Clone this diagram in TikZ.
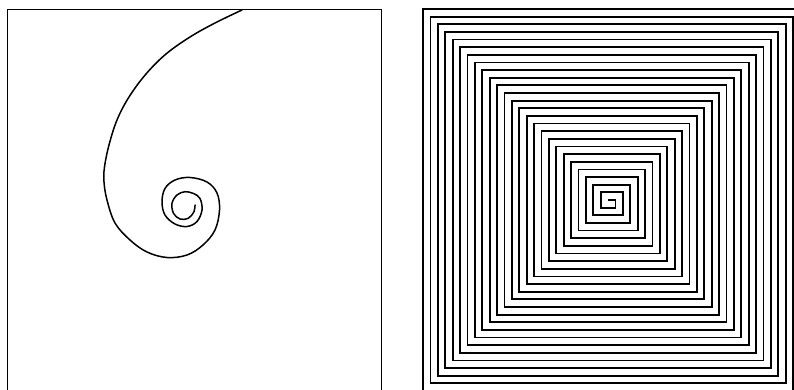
\documentclass[tikz,border=0pt]{standalone}
\begin{document}
\begin{tikzpicture}[x=1pt,y=-1pt,
  framebox/.style={line width=1pt},
  curve/.style={line width=1.5pt, line join=round, line cap=round},
  sqspiral/.style={line width=1.8pt, line join=miter}]
\useasboundingbox (0,0) rectangle (794,390);
\fill[white] (0,0) rectangle (794,390);
\begin{scope}
\clip (0,0) rectangle (794,390);
% left panel frame
\draw[framebox] (7,400) -- (7,10) -- (381,10) -- (381,400);
% left spiral
\draw[curve] plot[smooth, tension=0.6] coordinates {
 (242,10) (215,23) (190,37) (166,54) (146,74) (129,97) (117,120) (109,145)
 (104.5,167) (104,182) (107,200) (115,223) (130,240) (147,252) (167,257.5) (187,255)
 (203,245) (215,230) (219.5,210) (217,193) (207,182) (190,177.5) (175,180)
 (165,188.5) (162,202) (165,215) (175,224) (187,226.5) (197,221.5) (202,210)
 (200,198.5) (193.5,193.5) (185,191.7) (177,195) (172,203.3) (173.5,213.3)
 (180,219) (188.3,218.3) (194,211.7) (195,205)};
% right panel: square spiral
\coordinate (c) at (608,200);
\draw[sqspiral] (c)
  \foreach \n [evaluate=\n as \s using {(1-2*mod(\n+1,2))}] in {1,...,50} {
    -- ++({\n*\s*7.4},0) -- ++(0,{\n*\s*7.64})
  } -- ++({51*7.4},0);
\end{scope}
\end{tikzpicture}
\end{document}
